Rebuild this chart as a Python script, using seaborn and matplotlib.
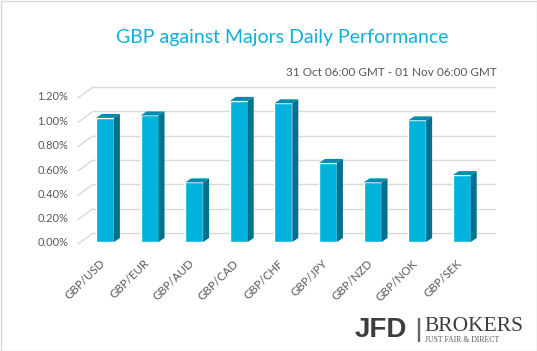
import matplotlib
matplotlib.use("Agg")
import matplotlib.pyplot as plt
import seaborn as sns
from matplotlib.patches import Polygon, Rectangle
from matplotlib.transforms import ScaledTranslation
from matplotlib.ticker import FuncFormatter

pairs = ['GBP/USD', 'GBP/EUR', 'GBP/AUD', 'GBP/CAD', 'GBP/CHF',
         'GBP/JPY', 'GBP/NZD', 'GBP/NOK', 'GBP/SEK']
change_pct = [1.02, 1.04, 0.49, 1.16, 1.14, 0.65, 0.49, 1.00, 0.55]
y_ticks = [0.0, 0.2, 0.4, 0.6, 0.8, 1.0, 1.2]

title = 'GBP against Majors Daily Performance'
subtitle = '31 Oct 06:00 GMT - 01 Nov 06:00 GMT'

FRONT = '#00B2DC'
SIDE = '#00718C'
TOP = '#008CAB'
GRID = '#D9D9D9'
TEXT = '#595959'

sns.set_theme(style='white')
plt.rcParams['font.family'] = ['Lato', 'DejaVu Sans']

W, H = 537, 351
fig = plt.figure(figsize=(W / 100, H / 100), dpi=100)

# front plane of the fake 3d box, in pixels from left / top
L, R, B, T = 78, 480, 242, 96
ax = fig.add_axes([L / W, 1 - B / H, (R - L) / W, (B - T) / H])

sns.barplot(x=pairs, y=change_pct, color=FRONT, saturation=1, width=0.4,
            ax=ax, zorder=3)

xmin, xmax = -0.605, 8.408
ax.set_xlim(xmin, xmax)
ax.set_ylim(0, 1.2)
px_x = (xmax - xmin) / (R - L)
px_y = 1.2 / (B - T)

# back wall grid + floor diagonals
gdx, gdy = 15 * px_x, 9 * px_y
for v in y_ticks:
    ax.plot([xmin, xmin + gdx], [v - 2 * px_y, v + gdy], color=GRID, lw=1,
            clip_on=False, zorder=1)
    ax.plot([xmin + gdx, xmax + gdx], [v + gdy, v + gdy], color=GRID, lw=1,
            clip_on=False, zorder=1)

# bar depth: side and top faces
bdx, bdy = 6 * px_x, 4 * px_y
for p in ax.patches:
    x0, w, h = p.get_x(), p.get_width(), p.get_height()
    side = [(x0 + w, 0), (x0 + w + bdx, bdy), (x0 + w + bdx, h + bdy), (x0 + w, h)]
    top = [(x0, h), (x0 + bdx, h + bdy), (x0 + w + bdx, h + bdy), (x0 + w, h)]
    ax.add_patch(Polygon(side, closed=True, facecolor=SIDE, edgecolor='none',
                         zorder=3, clip_on=False))
    ax.add_patch(Polygon(top, closed=True, facecolor=TOP, edgecolor='none',
                         zorder=3, clip_on=False))

sns.despine(ax=ax, left=True, bottom=True)
ax.set_yticks(y_ticks)
ax.yaxis.set_major_formatter(FuncFormatter(lambda v, _: f'{v:.2f}%'))
ax.tick_params(axis='y', length=0, pad=7, labelsize=8, labelcolor=TEXT)
ax.tick_params(axis='x', length=0, pad=14, labelsize=8.3, labelcolor=TEXT)
ax.set_xlabel('')
ax.set_ylabel('')
for lab in ax.get_xticklabels():
    lab.set_rotation(45)
    lab.set_ha('right')
    lab.set_va('center')
    lab.set_rotation_mode('anchor')
    lab.set_transform(lab.get_transform() + ScaledTranslation(-0.02, 0, fig.dpi_scale_trans))

fig.text(282 / W, 1 - 38 / H, title, ha='center', va='center',
         fontsize=14, color='#10AEDC')
fig.text(497 / W, 1 - 73 / H, subtitle, ha='right', va='center',
         fontsize=8.5, color=TEXT)

# logo
fig.text(355 / W, 1 - 337 / H, 'JFD', ha='left', va='baseline',
         fontsize=20, fontweight='bold', color='#3A3D42',
         family=['Liberation Sans', 'DejaVu Sans'])
fig.add_artist(Rectangle((418 / W, 1 - 341 / H), 1 / W, 23 / H,
                         transform=fig.transFigure, color='#666666'))
fig.text(424 / W, 1 - 331 / H, 'BROKERS', ha='left', va='baseline',
         fontsize=15.5, color='#3A3D42', family=['Liberation Serif', 'DejaVu Serif'])
fig.text(425 / W, 1 - 342 / H, 'JUST FAIR & DIRECT', ha='left', va='baseline',
         fontsize=5.6, color='#555555', family=['Liberation Serif', 'DejaVu Serif'])

fig.add_artist(Rectangle((0.5 / W, 0.5 / H), 1 - 1 / W, 1 - 1 / H, fill=False,
                         edgecolor=GRID, lw=1, transform=fig.transFigure))

fig.savefig('out.png', dpi=100)
